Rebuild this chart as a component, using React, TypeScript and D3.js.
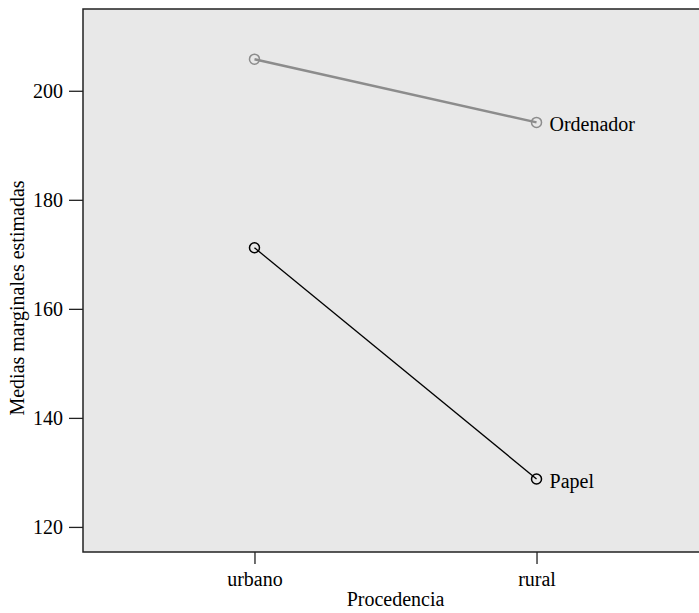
import React, { useEffect, useRef } from 'react';
import * as d3 from 'd3';

const categories = ['urbano', 'rural'];
const ordenador = [205.8, 194.2];
const papel = [171.2, 128.8];
const yTicks = [120, 140, 160, 180, 200];

const seriesList = [
  { name: 'Ordenador', values: ordenador, color: '#8c8c8c', width: 2.5 },
  { name: 'Papel', values: papel, color: '#000000', width: 1.3 },
];

const W = 699;
const H = 613;
const FONT = '"Liberation Serif", "Times New Roman", serif';

export default function App() {
  const svgRef = useRef<SVGSVGElement>(null);

  useEffect(() => {
    document.body.style.margin = '0';
    if (!svgRef.current) return;
    const svg = d3.select(svgRef.current);
    svg.selectAll('*').remove();

    const left = 83;
    const top = 9;
    const bottom = 552;
    const right = 708;

    const x = d3
      .scalePoint<string>()
      .domain(categories)
      .range([left, right])
      .padding(0.608);

    const y = d3.scaleLinear().domain([115.4, 215]).range([bottom, top]);

    // plot background
    svg
      .append('rect')
      .attr('x', left)
      .attr('y', top)
      .attr('width', right - left)
      .attr('height', bottom - top)
      .attr('fill', '#e8e8e8')
      .attr('stroke', '#222')
      .attr('stroke-width', 1.5);

    // y axis
    const yAxis = svg
      .append('g')
      .attr('transform', `translate(${left},0)`)
      .call(d3.axisLeft(y).tickValues(yTicks).tickSize(14).tickPadding(6));
    yAxis.select('.domain').remove();
    yAxis.selectAll('line').attr('stroke', '#222').attr('stroke-width', 1.3);
    yAxis
      .selectAll('text')
      .attr('font-family', FONT)
      .attr('font-size', 20)
      .attr('fill', '#000');

    // x axis
    const xAxis = svg
      .append('g')
      .attr('transform', `translate(0,${bottom})`)
      .call(d3.axisBottom(x).tickSize(12).tickPadding(8));
    xAxis.select('.domain').remove();
    xAxis.selectAll('line').attr('stroke', '#222').attr('stroke-width', 1.3);
    xAxis
      .selectAll('text')
      .attr('font-family', FONT)
      .attr('font-size', 20)
      .attr('fill', '#000');

    // axis titles
    svg
      .append('text')
      .attr('x', (left + right) / 2)
      .attr('y', 606)
      .attr('text-anchor', 'middle')
      .attr('font-family', FONT)
      .attr('font-size', 20)
      .text('Procedencia');

    svg
      .append('text')
      .attr('transform', `translate(24,298) rotate(-90)`)
      .attr('text-anchor', 'middle')
      .attr('font-family', FONT)
      .attr('font-size', 20)
      .text('Medias marginales estimadas');

    const line = d3
      .line<number>()
      .x((_d, i) => x(categories[i]) as number)
      .y((d) => y(d));

    seriesList.forEach((s) => {
      svg
        .append('path')
        .datum(s.values)
        .attr('d', line)
        .attr('fill', 'none')
        .attr('stroke', s.color)
        .attr('stroke-width', s.width);

      svg
        .selectAll(null)
        .data(s.values)
        .enter()
        .append('circle')
        .attr('cx', (_d, i) => x(categories[i]) as number)
        .attr('cy', (d) => y(d))
        .attr('r', 5)
        .attr('fill', 'none')
        .attr('stroke', s.color)
        .attr('stroke-width', 1.5);

      const last = s.values[s.values.length - 1];
      svg
        .append('text')
        .attr('x', (x(categories[categories.length - 1]) as number) + 13)
        .attr('y', y(last) + 2)
        .attr('dy', '0.35em')
        .attr('font-family', FONT)
        .attr('font-size', 20)
        .attr('fill', '#000')
        .text(s.name);
    });
  }, []);

  return <svg ref={svgRef} width={W} height={H} style={{ display: 'block' }} />;
}
